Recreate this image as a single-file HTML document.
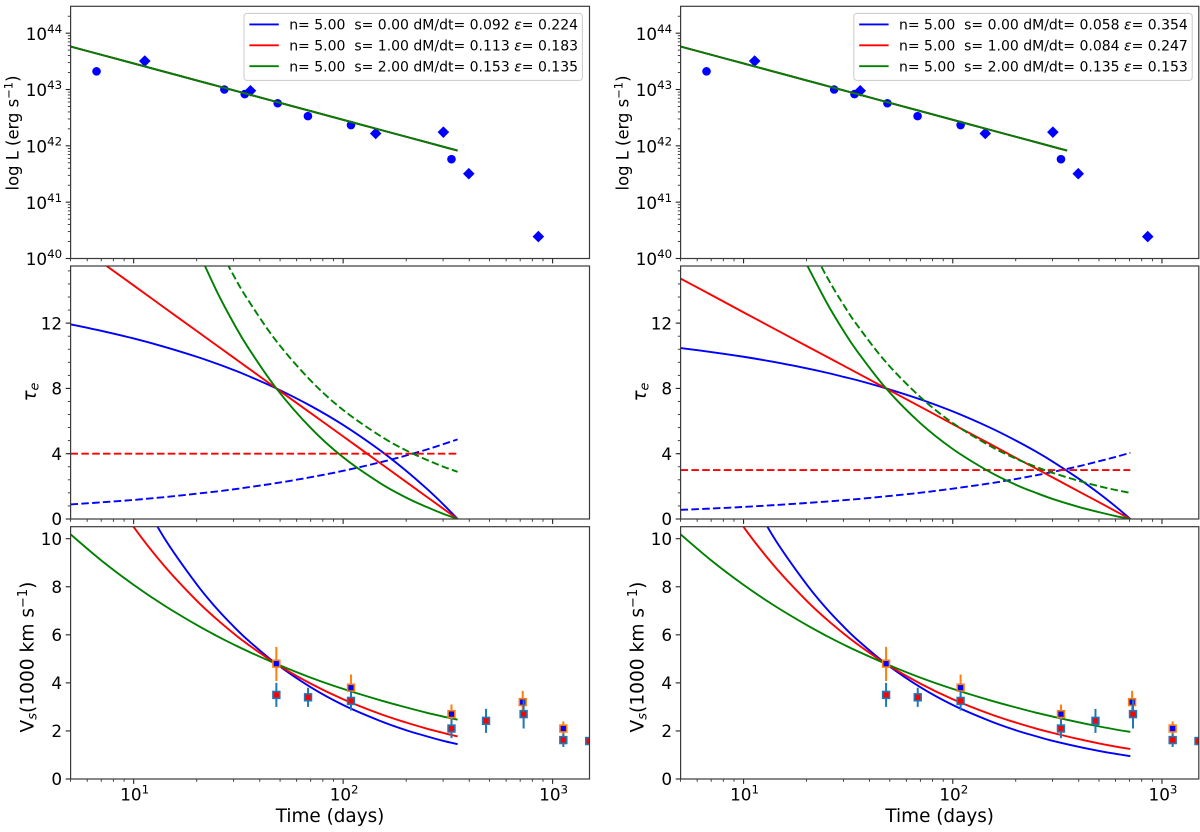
<!DOCTYPE html>
<html lang="en">
<head>
<meta charset="utf-8">
<title>Supernova light curve models</title>
<style>
html,body{margin:0;padding:0;background:#fff;width:1200px;height:832px;overflow:hidden}
svg{display:block;filter:blur(0.35px)}
text{font-family:"DejaVu Sans","Liberation Sans",sans-serif;fill:#000;white-space:pre}
</style>
</head>
<body>
<svg id="chart" xmlns="http://www.w3.org/2000/svg" width="1200" height="832" viewBox="0 0 1200 832"></svg>
<script>
/* ---------- observed data (shared by both columns) ---------- */
const lumCircleTimes = [6.65, 27.1, 33.9, 48.7, 67.9, 109, 329];
const lumCircleValues = [2.1e43, 1.0e43, 8.3e42, 5.7e42, 3.37e42, 2.34e42, 5.8e41];
const lumDiamondTimes = [11.3, 36.1, 143, 301, 398, 855];
const lumDiamondValues = [3.2e43, 9.5e42, 1.66e42, 1.75e42, 3.2e41, 2.45e40];

const velBlueTimes = [48, 109, 329, 720, 1125];
const velBlueValues = [4.8, 3.8, 2.7, 3.2, 2.1];
const velBlueLow = [4.08, 3.2, 2.3, 2.72, 1.8];
const velBlueHigh = [5.5, 4.35, 3.1, 3.67, 2.4];

const velRedTimes = [48, 68, 109, 329, 481, 727, 1125, 1495];
const velRedValues = [3.5, 3.4, 3.25, 2.1, 2.42, 2.7, 1.62, 1.58];
const velRedLow = [3.0, 3.0, 2.85, 1.7, 1.92, 2.1, 1.33, 1.5];
const velRedHigh = [4.0, 3.8, 3.65, 2.5, 2.92, 3.3, 1.9, 1.65];

/* ---------- model curves ---------- */
const gridA = [5, 7, 10, 14, 20, 25, 30, 35, 48, 70, 100, 150, 200, 250, 300, 352];
const gridB = [5, 7, 10, 14, 20, 25, 30, 35, 48, 70, 100, 150, 200, 250, 300, 400, 500, 600, 706];

const lumModelBlue = [5.8e43, 4.14e43, 2.9e43, 2.07e43, 1.45e43, 1.16e43, 9.67e42, 8.29e42, 6.04e42, 4.14e42, 2.9e42, 1.93e42, 1.45e42, 1.16e42, 9.67e41, 8.24e41];
const lumModelRed = [5.8e43, 4.14e43, 2.9e43, 2.07e43, 1.45e43, 1.16e43, 9.67e42, 8.29e42, 6.04e42, 4.14e42, 2.9e42, 1.93e42, 1.45e42, 1.16e42, 9.67e41, 8.24e41];
const lumModelGreen = [5.8e43, 4.14e43, 2.9e43, 2.07e43, 1.45e43, 1.16e43, 9.67e42, 8.29e42, 6.04e42, 4.14e42, 2.9e42, 1.93e42, 1.45e42, 1.16e42, 9.67e41, 8.24e41];

const tauBlueSolidA = [11.93, 11.53, 11.06, 10.55, 9.94, 9.51, 9.13, 8.78, 8, 6.93, 5.76, 4.21, 2.95, 1.87, 0.91, 0];
const tauRedSolidA = [17.09, 15.74, 14.31, 12.95, 11.52, 10.62, 9.89, 9.27, 8, 6.49, 5.06, 3.43, 2.27, 1.37, 0.64, 0];
const tauGreenSolidA = [null, null, null, null, 16.61, 13.92, 12.0, 10.55, 8, 5.58, 3.78, 2.2, 1.31, 0.74, 0.32, 0];
const tauBlueDashA = [0.89, 1.02, 1.17, 1.34, 1.55, 1.69, 1.82, 1.94, 2.2, 2.56, 2.95, 3.47, 3.89, 4.25, 4.58, 4.88];
const tauRedDashA = [4, 4, 4, 4, 4, 4, 4, 4, 4, 4, 4, 4, 4, 4, 4, 4];
const tauGreenDashA = [null, null, null, null, null, 16.85, 14.92, 13.46, 10.9, 8.48, 6.68, 5.1, 4.2, 3.63, 3.21, 2.89];

const velModelBlueA = [null, null, 12.28, 10.03, 8.1, 7.08, 6.35, 5.79, 4.79, 3.82, 3.08, 2.42, 2.03, 1.78, 1.59, 1.45];
const velModelRedA = [14.8, 12.54, 10.49, 8.87, 7.42, 6.64, 6.06, 5.61, 4.79, 3.97, 3.32, 2.71, 2.35, 2.1, 1.92, 1.77];
const velModelGreenA = [10.18, 9.1, 8.08, 7.22, 6.41, 5.95, 5.6, 5.32, 4.79, 4.22, 3.75, 3.28, 2.98, 2.76, 2.6, 2.47];

const tauBlueSolidB = [10.47, 10.23, 9.94, 9.62, 9.23, 8.96, 8.71, 8.5, 8, 7.33, 6.59, 5.61, 4.81, 4.13, 3.52, 2.47, 1.57, 0.77, 0];
const tauRedSolidB = [14.73, 13.73, 12.66, 11.66, 10.6, 9.94, 9.4, 8.94, 8, 6.88, 5.81, 4.61, 3.75, 3.09, 2.55, 1.69, 1.03, 0.48, 0];
const tauGreenSolidB = [null, null, null, null, 15.61, 13.24, 11.54, 10.26, 8, 5.87, 4.29, 2.89, 2.1, 1.6, 1.23, 0.74, 0.42, 0.18, 0];
const tauBlueDashB = [0.56, 0.64, 0.74, 0.85, 0.98, 1.07, 1.15, 1.22, 1.39, 1.61, 1.86, 2.18, 2.45, 2.68, 2.88, 3.23, 3.54, 3.8, 4.06];
const tauRedDashB = [3, 3, 3, 3, 3, 3, 3, 3, 3, 3, 3, 3, 3, 3, 3, 3, 3, 3, 3];
const tauGreenDashB = [null, null, null, null, 17.21, 14.84, 13.14, 11.86, 9.6, 7.47, 5.88, 4.49, 3.7, 3.2, 2.83, 2.34, 2.01, 1.78, 1.6];

const velModelBlueB = [null, null, 12.28, 10.03, 8.1, 7.08, 6.35, 5.79, 4.79, 3.82, 3.08, 2.42, 2.03, 1.78, 1.59, 1.34, 1.17, 1.05, 0.95];
const velModelRedB = [14.8, 12.54, 10.49, 8.87, 7.42, 6.64, 6.06, 5.61, 4.79, 3.97, 3.32, 2.71, 2.35, 2.1, 1.92, 1.66, 1.48, 1.35, 1.25];
const velModelGreenB = [10.18, 9.1, 8.08, 7.22, 6.41, 5.95, 5.6, 5.32, 4.79, 4.22, 3.75, 3.28, 2.98, 2.76, 2.6, 2.36, 2.19, 2.06, 1.96];

/* ---------- tick labels and legend text ---------- */
const xTickDecades = [1, 2, 3];
const lumTickExponents = [40, 41, 42, 43, 44];
const tauTickLabels = [0, 4, 8, 12];
const velTickLabels = [0, 2, 4, 6, 8, 10];
const legendS = ["0.00", "1.00", "2.00"];
const legendMdotA = ["0.092", "0.113", "0.153"];
const legendEpsA = ["0.224", "0.183", "0.135"];
const legendMdotB = ["0.058", "0.084", "0.135"];
const legendEpsB = ["0.354", "0.247", "0.153"];

const seriesColors = ["#0000ff", "#ff0000", "#008000"];
const seriesNames = ["blue", "red", "green"];

/* ---------- layout ---------- */
const SVGNS = "http://www.w3.org/2000/svg";
const svg = document.getElementById("chart");
const T_MIN = 5, T_MAX = 1500;
const spineColor = "#3a3a3a";
const LW = 1.9;

function add(parent, tag, attrs, text) {
  const e = document.createElementNS(SVGNS, tag);
  for (const k in attrs) e.setAttribute(k, attrs[k]);
  if (text !== undefined) e.textContent = text;
  parent.appendChild(e);
  return e;
}

function makeXAxis(xL, xR) {
  const a = Math.log10(T_MIN), b = Math.log10(T_MAX);
  return t => xL + (Math.log10(t) - a) / (b - a) * (xR - xL);
}
function linearAxis(vMin, vMax, yBottom, yTop) {
  return v => yBottom - (v - vMin) / (vMax - vMin) * (yBottom - yTop);
}
function logAxis(vMin, vMax, yBottom, yTop) {
  const a = Math.log10(vMin), b = Math.log10(vMax);
  return v => yBottom - (Math.log10(v) - a) / (b - a) * (yBottom - yTop);
}

function smoothPath(times, values, xOf, yOf) {
  const pts = [];
  times.forEach((t, i) => {
    if (values[i] !== null) pts.push([xOf(t), yOf(values[i])]);
  });
  let d = "M" + pts[0][0].toFixed(2) + " " + pts[0][1].toFixed(2);
  for (let i = 0; i < pts.length - 1; i++) {
    const p0 = pts[Math.max(0, i - 1)], p1 = pts[i], p2 = pts[i + 1], p3 = pts[Math.min(pts.length - 1, i + 2)];
    const c1x = p1[0] + (p2[0] - p0[0]) / 6, c1y = p1[1] + (p2[1] - p0[1]) / 6;
    const c2x = p2[0] - (p3[0] - p1[0]) / 6, c2y = p2[1] - (p3[1] - p1[1]) / 6;
    d += "C" + c1x.toFixed(2) + " " + c1y.toFixed(2) + " " + c2x.toFixed(2) + " " + c2y.toFixed(2) + " " + p2[0].toFixed(2) + " " + p2[1].toFixed(2);
  }
  return d;
}

function drawCurve(g, times, values, color, dashed, xOf, yOf, name) {
  const attrs = { d: smoothPath(times, values, xOf, yOf), fill: "none", stroke: color, "stroke-width": LW };
  if (dashed) attrs["stroke-dasharray"] = "7.5 3.3";
  const c = add(g, "path", attrs);
  
  
}

function drawXTicks(g, xOf, yB, withLabels) {
  for (let e = 0; e <= 3; e++) {
    for (let k = 1; k <= 9; k++) {
      const t = k * Math.pow(10, e);
      if (t < T_MIN || t > T_MAX) continue;
      const major = k === 1;
      const x = xOf(t);
      const tick = add(g, "line", { x1: x, x2: x, y1: yB, y2: yB + (major ? 4.9 : 2.8), stroke: "#222", "stroke-width": major ? 1.1 : 0.85 });
      
      
    }
  }
  if (!withLabels) return;
  xTickDecades.forEach(d => {
    const label = add(g, "text", { x: xOf(Math.pow(10, d)) + 1, y: yB + 21.5, "font-size": 16.8, "text-anchor": "middle" }, "10");
    
    
    add(label, "tspan", { dy: -7, "font-size": 11.8 }, String(d));
  });
}

function drawLinearYTicks(g, xL, yOf, labels, minorStep, maxV) {
  if (minorStep) {
    for (let i = 0; i * minorStep <= maxV + 1e-6; i++) {
      const y = yOf(i * minorStep);
      const tick = add(g, "line", { x1: xL - 2.8, x2: xL, y1: y, y2: y, stroke: "#222", "stroke-width": 0.85 });
      
      
    }
  }
  labels.forEach(v => {
    const y = yOf(v);
    const tick = add(g, "line", { x1: xL - 4.9, x2: xL, y1: y, y2: y, stroke: "#222", "stroke-width": 1.1 });
    
    
    const label = add(g, "text", { x: xL - 8.5, y: y + 6.2, "font-size": 16.8, "text-anchor": "end" }, String(v));
    
    
  });
}

function drawLogYTicks(g, xL, yOf) {
  for (let e = 40; e <= 44; e++) {
    for (let k = 2; k <= 9; k++) {
      const v = k * Math.pow(10, e);
      if (v > 3e44) continue;
      const y = yOf(v);
      const tick = add(g, "line", { x1: xL - 2.8, x2: xL, y1: y, y2: y, stroke: "#222", "stroke-width": 0.85 });
      
      
    }
  }
  lumTickExponents.forEach(e => {
    const y = yOf(Math.pow(10, e));
    const tick = add(g, "line", { x1: xL - 4.9, x2: xL, y1: y, y2: y, stroke: "#222", "stroke-width": 1.1 });
    
    
    const label = add(g, "text", { x: xL - 8.5, y: y + 6.6, "font-size": 16.8, "text-anchor": "end" }, "10");
    
    
    add(label, "tspan", { dy: -7, "font-size": 11.8 }, String(e));
  });
}

function drawFrame(g, xL, xR, yT, yB) {
  const frame = add(g, "rect", { x: xL, y: yT, width: xR - xL, height: yB - yT, fill: "none", stroke: spineColor, "stroke-width": 1.2 });
  
  
}

function drawLegend(g, col, mdot, eps) {
  const box = add(g, "rect", { x: col.legendX, y: 13.4, width: 338.4, height: 67, rx: 3, fill: "#fff", "fill-opacity": 0.85, stroke: "#cfcfcf", "stroke-width": 1.1 });
  
  
  [0, 1, 2].forEach(i => {
    const y = 24.4 + i * 20.9;
    const handle = add(g, "line", { x1: col.legendX + 5.4, x2: col.legendX + 34.8, y1: y, y2: y, stroke: seriesColors[i], "stroke-width": LW });
    
    
    const text = add(g, "text", { x: col.legendX + 45.2, y: y + 5.1, "font-size": 14 }, "n= 5.00  s= " + legendS[i] + " dM/dt= " + mdot[i] + " ");
    
    
    add(text, "tspan", { "font-style": "italic" }, "ε");
    add(text, "tspan", {}, "= " + eps[i]);
  });
}

function drawColumn(col) {
  const root = add(svg, "g", {});
  
  
  const xOf = makeXAxis(col.xL, col.xR);

  /* ---- luminosity panel ---- */
  const yT1 = 6.3, yB1 = 258.5;
  const yLum = logAxis(1e40, 3e44, yB1, yT1);
  const p1 = add(root, "g", {});
  
  
  const clip1 = add(p1, "clipPath", { id: col.id + "c1" });
  add(clip1, "rect", { x: col.xL, y: yT1, width: col.xR - col.xL, height: yB1 - yT1 });
  const plot1 = add(p1, "g", { "clip-path": "url(#" + col.id + "c1)" });
  lumCircleTimes.forEach((t, i) => {
    const m = add(plot1, "circle", { cx: xOf(t), cy: yLum(lumCircleValues[i]), r: 4.3, fill: "#0000ff" });
    
    
  });
  lumDiamondTimes.forEach((t, i) => {
    const x = xOf(t), y = yLum(lumDiamondValues[i]), r = 5.8;
    const m = add(plot1, "polygon", { points: [[x, y - r], [x + r, y], [x, y + r], [x - r, y]].map(p => p.join(",")).join(" "), fill: "#0000ff" });
    
    
  });
  drawCurve(plot1, gridA, lumModelBlue, seriesColors[0], false, xOf, yLum, 'luminosity-model-blue');
  drawCurve(plot1, gridA, lumModelRed, seriesColors[1], false, xOf, yLum, 'luminosity-model-red');
  drawCurve(plot1, gridA, lumModelGreen, seriesColors[2], false, xOf, yLum, 'luminosity-model-green');
  drawXTicks(p1, xOf, yB1, false);
  drawLogYTicks(p1, col.xL, yLum);
  drawFrame(p1, col.xL, col.xR, yT1, yB1);
  const lumTitle = add(p1, "text", { transform: "translate(" + (col.xL - 52) + ",133) rotate(-90)", "font-size": 16.4, "text-anchor": "middle" }, "log L (erg s");
  
  
  add(lumTitle, "tspan", { dy: -6, "font-size": 11.5 }, "−1");
  add(lumTitle, "tspan", { dy: 6 }, ")");
  drawLegend(p1, col, col.mdot, col.eps);

  /* ---- optical depth panel ---- */
  const yT2 = 266, yB2 = 519;
  const yTau = linearAxis(0, 15.5, yB2, yT2);
  const p2 = add(root, "g", {});
  
  
  const clip2 = add(p2, "clipPath", { id: col.id + "c2" });
  add(clip2, "rect", { x: col.xL, y: yT2, width: col.xR - col.xL, height: yB2 - yT2 });
  const plot2 = add(p2, "g", { "clip-path": "url(#" + col.id + "c2)" });
  drawCurve(plot2, col.grid, col.tauBlue, seriesColors[0], false, xOf, yTau, 'tau-solid-blue');
  drawCurve(plot2, col.grid, col.tauBlueD, seriesColors[0], true, xOf, yTau, 'tau-dashed-blue');
  drawCurve(plot2, col.grid, col.tauRed, seriesColors[1], false, xOf, yTau, 'tau-solid-red');
  drawCurve(plot2, col.grid, col.tauRedD, seriesColors[1], true, xOf, yTau, 'tau-dashed-red');
  drawCurve(plot2, col.grid, col.tauGreen, seriesColors[2], false, xOf, yTau, 'tau-solid-green');
  drawCurve(plot2, col.grid, col.tauGreenD, seriesColors[2], true, xOf, yTau, 'tau-dashed-green');
  drawXTicks(p2, xOf, yB2, false);
  drawLinearYTicks(p2, col.xL, yTau, tauTickLabels, 0.8, 15.5);
  drawFrame(p2, col.xL, col.xR, yT2, yB2);
  const tauTitle = add(p2, "text", { transform: "translate(" + (col.xL - 35) + ",392) rotate(-90)", "font-size": 18.2, "text-anchor": "middle", "font-style": "italic" }, "τ");
  
  
  add(tauTitle, "tspan", { dy: 3, "font-size": 12.8 }, "e");

  /* ---- velocity panel ---- */
  const yT3 = 526.7, yB3 = 779;
  const yVel = linearAxis(0, 10.5, yB3, yT3);
  const p3 = add(root, "g", {});
  
  
  const clip3 = add(p3, "clipPath", { id: col.id + "c3" });
  add(clip3, "rect", { x: col.xL, y: yT3, width: col.xR - col.xL, height: yB3 - yT3 });
  const plot3 = add(p3, "g", { "clip-path": "url(#" + col.id + "c3)" });
  drawCurve(plot3, col.grid, col.velBlue, seriesColors[0], false, xOf, yVel, 'velocity-model-blue');
  drawCurve(plot3, col.grid, col.velRed, seriesColors[1], false, xOf, yVel, 'velocity-model-red');
  drawCurve(plot3, col.grid, col.velGreen, seriesColors[2], false, xOf, yVel, 'velocity-model-green');

  velBlueTimes.forEach((t, i) => {
    const x = xOf(t);
    const bar = add(plot3, "line", { x1: x, x2: x, y1: yVel(velBlueLow[i]), y2: yVel(velBlueHigh[i]), stroke: "#ff7f0e", "stroke-width": 2 });
    
    
    const m = add(plot3, "rect", { x: x - 3.4, y: yVel(velBlueValues[i]) - 3.4, width: 6.8, height: 6.8, fill: "#0000ff", stroke: "#ff7f0e", "stroke-width": 1.6 });
    
    
  });
  velRedTimes.forEach((t, i) => {
    const x = xOf(t);
    const bar = add(plot3, "line", { x1: x, x2: x, y1: yVel(velRedLow[i]), y2: yVel(velRedHigh[i]), stroke: "#1f77b4", "stroke-width": 2 });
    
    
    const m = add(plot3, "rect", { x: x - 3.4, y: yVel(velRedValues[i]) - 3.4, width: 6.8, height: 6.8, fill: "#ff0000", stroke: "#1f77b4", "stroke-width": 1.6 });
    
    
  });
  drawXTicks(p3, xOf, yB3, true);
  drawLinearYTicks(p3, col.xL, yVel, velTickLabels, 0, 10.5);
  drawFrame(p3, col.xL, col.xR, yT3, yB3);
  const velTitle = add(p3, "text", { transform: "translate(" + (col.xL - 37) + ",657) rotate(-90)", "font-size": 18.6, "text-anchor": "middle" }, "V");
  
  
  add(velTitle, "tspan", { dy: 3, "font-size": 13, "font-style": "italic" }, "s");
  add(velTitle, "tspan", { dy: -3 }, "(1000 km s");
  add(velTitle, "tspan", { dy: -6.5, "font-size": 13 }, "−1");
  add(velTitle, "tspan", { dy: 6.5 }, ")");
  const xTitle = add(p3, "text", { x: (col.xL + col.xR) / 2, y: 822, "font-size": 18.4, "text-anchor": "middle" }, "Time (days)");
  
  
}

drawColumn({
  id: "a", name: "left-column", xL: 70.6, xR: 589.5, legendX: 244, mdot: legendMdotA, eps: legendEpsA, grid: gridA,
  tauBlue: tauBlueSolidA, tauRed: tauRedSolidA, tauGreen: tauGreenSolidA,
  tauBlueD: tauBlueDashA, tauRedD: tauRedDashA, tauGreenD: tauGreenDashA,
  velBlue: velModelBlueA, velRed: velModelRedA, velGreen: velModelGreenA
});
drawColumn({
  id: "b", name: "right-column", xL: 680.6, xR: 1198.8, legendX: 853.8, mdot: legendMdotB, eps: legendEpsB, grid: gridB,
  tauBlue: tauBlueSolidB, tauRed: tauRedSolidB, tauGreen: tauGreenSolidB,
  tauBlueD: tauBlueDashB, tauRedD: tauRedDashB, tauGreenD: tauGreenDashB,
  velBlue: velModelBlueB, velRed: velModelRedB, velGreen: velModelGreenB
});
</script>
</body>
</html>
